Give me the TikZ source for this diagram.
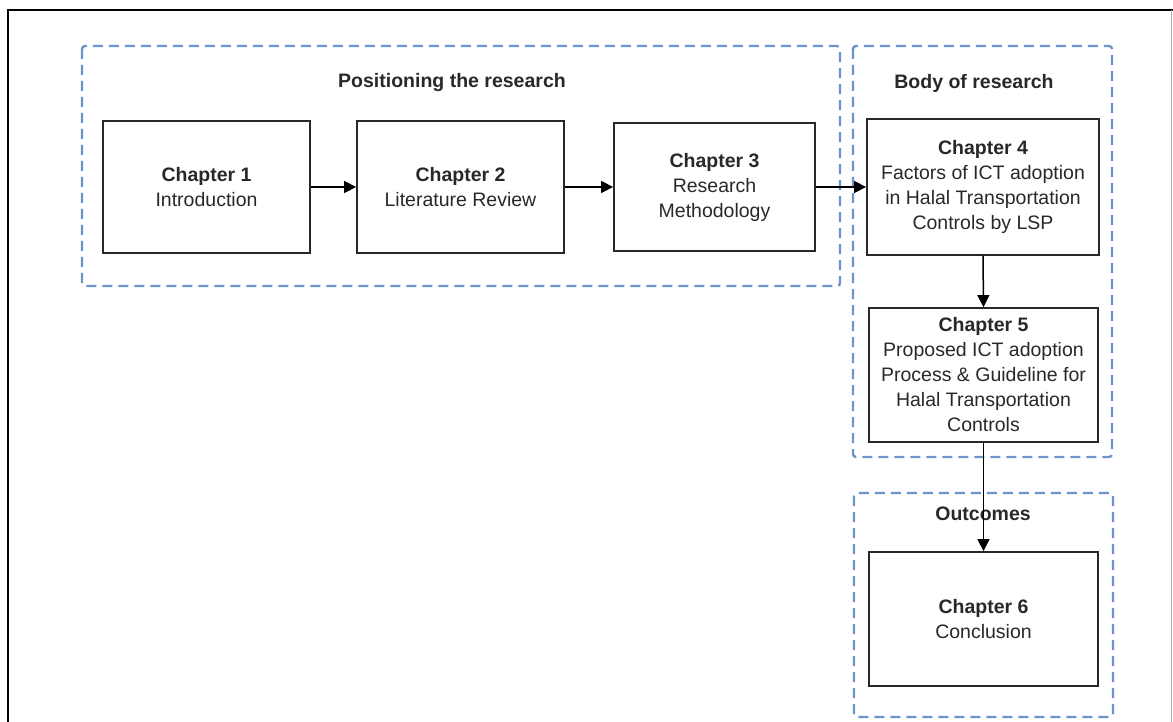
\documentclass[tikz,border=0pt]{standalone}
\usepackage{fontspec}
\setmainfont{Liberation Sans}
\usetikzlibrary{arrows.meta}
\definecolor{grpblue}{RGB}{108,148,204}
\definecolor{inkgray}{RGB}{40,40,40}
\tikzset{
  chbox/.style={draw=inkgray, line width=1.8pt, inner sep=0pt, align=center, text=inkgray,
    font=\fontsize{19.5}{25}\selectfont},
  grp/.style={draw=grpblue, line width=2.4pt, dash pattern=on 10pt off 6pt, rounded corners=3pt},
  grptitle/.style={font=\bfseries\fontsize{19.5}{25}\selectfont, text=inkgray},
  flow/.style={draw=black, line width=1.5pt, -{Triangle[length=12pt,width=12pt]}}
}
\begin{document}
\begin{tikzpicture}[x=1pt,y=-1pt]
\useasboundingbox (0,0) rectangle (1173,722);
% outer frame
\draw[black, line width=2.5pt] (8,724) -- (8,10) -- (1175,10);
\draw[black!30, line width=1pt] (1171,10) -- (1171,724);
% groups
\draw[grp] (82,46) rectangle (840,286);
\draw[grp] (853,46) rectangle (1112,457);
\draw[grp] (854,493) rectangle (1113,717);
\node[grptitle] (t1) at (452,83) {Positioning the research};
\node[grptitle] (t2) at (974,83) {Body of research};
\node[grptitle] (t3) at (983,514) {Outcomes};
% chapter boxes
\node[chbox, minimum width=207pt, minimum height=132pt] (c1) at (206.5,187) {\textbf{Chapter 1}\\Introduction};
\node[chbox, minimum width=207pt, minimum height=132pt] (c2) at (460.5,187) {\textbf{Chapter 2}\\Literature Review};
\node[chbox, minimum width=201pt, minimum height=128pt] (c3) at (714.5,187) {\textbf{Chapter 3}\\Research\\Methodology};
\node[chbox, minimum width=232pt, minimum height=136pt] (c4) at (983,187) {\textbf{Chapter 4}\\Factors of ICT adoption\\in Halal Transportation\\Controls by LSP};
\node[chbox, minimum width=229pt, minimum height=134pt] (c5) at (983.5,375) {\textbf{Chapter 5}\\Proposed ICT adoption\\Process \& Guideline for\\Halal Transportation\\Controls};
\node[chbox, minimum width=229pt, minimum height=134pt] (c6) at (983.5,619) {\textbf{Chapter 6}\\Conclusion};
% connectors
\draw[flow] (c1.east) -- (c2.west);
\draw[flow] (c2.east) -- (c3.west);
\draw[flow] (c3.east) -- (c4.west);
\draw[flow] (c4.south) -- (c5.north);
\draw[flow] (c5.south) -- (c6.north);
\end{tikzpicture}
\end{document}
